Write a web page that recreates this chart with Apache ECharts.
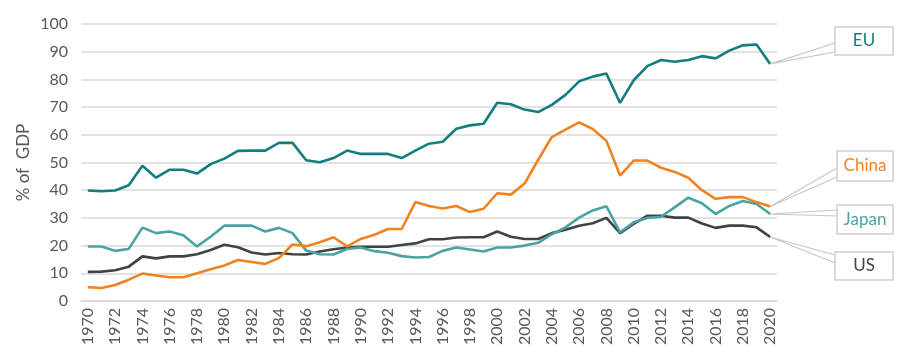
<!DOCTYPE html>
<html>
<head>
<meta charset="utf-8">
<script src="https://cdn.jsdelivr.net/npm/echarts@6/dist/echarts.min.js"></script>
<style>
  html, body { margin: 0; padding: 0; background: #fff; }
  #chart { width: 910px; height: 352px; }
</style>
</head>
<body>
<div id="chart"></div>
<script>
// 年份
var years = ['1970','1971','1972','1973','1974','1975','1976','1977','1978','1979',
  '1980','1981','1982','1983','1984','1985','1986','1987','1988','1989',
  '1990','1991','1992','1993','1994','1995','1996','1997','1998','1999',
  '2000','2001','2002','2003','2004','2005','2006','2007','2008','2009',
  '2010','2011','2012','2013','2014','2015','2016','2017','2018','2019','2020'];

var euValues = [39.9, 39.6, 39.9, 41.8, 48.8, 44.5, 47.4, 47.4, 46.0, 49.4,
  51.4, 54.2, 54.3, 54.3, 57.1, 57.1, 50.8, 50.1, 51.6, 54.3,
  53.1, 53.1, 53.1, 51.6, 54.3, 56.8, 57.5, 62.2, 63.4, 64.0,
  71.6, 71.0, 69.1, 68.2, 70.8, 74.4, 79.3, 81.0, 82.1, 71.5,
  79.7, 84.8, 87.0, 86.4, 87.0, 88.4, 87.6, 90.4, 92.3, 92.6, 85.6];

var chinaValues = [5.0, 4.7, 5.8, 7.7, 9.9, 9.2, 8.6, 8.6, 10.0, 11.5,
  12.8, 14.8, 14.1, 13.4, 15.5, 20.4, 19.8, 21.2, 23.0, 19.7,
  22.4, 23.9, 26.0, 26.0, 35.7, 34.3, 33.4, 34.3, 32.1, 33.3,
  38.9, 38.4, 42.4, 51.0, 59.2, 61.9, 64.5, 62.1, 57.8, 45.3,
  50.7, 50.7, 48.1, 46.6, 44.5, 40.0, 36.9, 37.5, 37.5, 35.7, 34.1];

var japanValues = [19.7, 19.7, 18.1, 18.8, 26.5, 24.5, 25.1, 23.7, 19.7, 23.2,
  27.2, 27.2, 27.2, 25.1, 26.4, 24.5, 18.2, 16.9, 16.8, 18.8,
  19.3, 18.0, 17.4, 16.2, 15.7, 15.9, 18.1, 19.3, 18.6, 17.9,
  19.3, 19.3, 20.0, 21.0, 24.1, 26.6, 30.1, 32.7, 34.2, 24.8,
  28.4, 30.0, 30.4, 33.8, 37.3, 35.3, 31.4, 34.3, 36.1, 35.0, 31.4];

var usValues = [10.5, 10.6, 11.1, 12.4, 16.1, 15.4, 16.1, 16.1, 16.9, 18.4,
  20.3, 19.4, 17.5, 16.8, 17.3, 16.9, 16.8, 17.9, 18.7, 19.3,
  19.6, 19.6, 19.6, 20.2, 20.8, 22.3, 22.3, 22.9, 23.0, 23.0,
  25.1, 23.2, 22.4, 22.4, 24.5, 25.7, 27.2, 28.1, 30.0, 24.5,
  27.8, 30.8, 30.8, 30.1, 30.1, 28.0, 26.4, 27.2, 27.2, 26.6, 23.1];

var seriesNames = ['EU', 'China', 'Japan', 'US'];
var seriesColors = ['#127e7e', '#f0831f', '#4aa3a2', '#3e4346'];

// 右侧标注框的位置（像素）：框的x、y、宽、高，以及引线在框左边的两个y
var calloutBoxes = [
  { x: 835, y: 27, w: 58, h: 28, y1: 43, y2: 52 },
  { x: 837, y: 151, w: 56, h: 30, y1: 168, y2: 177 },
  { x: 837, y: 205, w: 56, h: 29, y1: 210, y2: 216 },
  { x: 835, y: 252, w: 58, h: 28, y1: 255, y2: 263 }
];

var fontFamily = 'Lato, "Open Sans", sans-serif';

(function () {
    var chart = echarts.init(document.getElementById('chart'));
    var allValues = [euValues, chinaValues, japanValues, usValues];

    var series = [];
    for (var i = 0; i < seriesNames.length; i++) {
        series.push({
            name: seriesNames[i],
            type: 'line',
            data: allValues[i],
            symbol: 'none',
            smooth: false,
            animation: false,
            lineStyle: { width: 2.6, color: seriesColors[i] },
            itemStyle: { color: seriesColors[i] },
            z: 10 - i
        });
    }

    chart.setOption({
        animation: false,
        grid: { left: 81, right: 133, top: 24, bottom: 51 },
        xAxis: {
            type: 'category',
            data: years,
            boundaryGap: true,
            axisLine: { show: true, lineStyle: { color: '#d9d9d9', width: 1.5 } },
            axisTick: { show: false },
            axisLabel: {
                interval: 1,
                rotate: 90,
                margin: 7,
                color: '#595959',
                fontSize: 16,
                fontFamily: fontFamily
            },
            splitLine: { show: false }
        },
        yAxis: {
            type: 'value',
            min: 0,
            max: 100,
            interval: 10,
            name: '% of  GDP',
            nameLocation: 'middle',
            nameGap: 49,
            nameMoveOverlap: false,
            nameRotate: 90,
            nameTextStyle: { color: '#595959', fontSize: 17, fontFamily: fontFamily },
            axisLine: { show: false },
            axisTick: { show: false },
            axisLabel: { margin: 13, color: '#595959', fontSize: 16, fontFamily: fontFamily },
            splitLine: { lineStyle: { color: '#d9d9d9', width: 1.5 } }
        },
        series: series
    });

    // 用坐标系换算末端点的位置，画引线和标注框
    var graphics = [];
    var last = years.length - 1;
    for (var k = 0; k < seriesNames.length; k++) {
        var p = chart.convertToPixel({ seriesIndex: k }, [last, allValues[k][last]]);
        var b = calloutBoxes[k];
        graphics.push({
            type: 'polyline',
            shape: { points: [[b.x, b.y1], [p[0], p[1]], [b.x, b.y2]] },
            style: { stroke: '#c6c6c6', lineWidth: 1.2, fill: null },
            z: 20
        });
        graphics.push({
            type: 'rect',
            shape: { x: b.x, y: b.y, width: b.w, height: b.h },
            style: { fill: '#fff', stroke: '#cfcfcf', lineWidth: 1.5 },
            z: 21
        });
        graphics.push({
            type: 'text',
            x: b.x + b.w / 2,
            y: b.y + b.h / 2,
            style: {
                text: seriesNames[k],
                fill: seriesColors[k],
                font: '17px ' + fontFamily,
                align: 'center',
                verticalAlign: 'middle'
            },
            z: 22
        });
    }
    chart.setOption({ graphic: graphics });
})();
</script>
</body>
</html>
